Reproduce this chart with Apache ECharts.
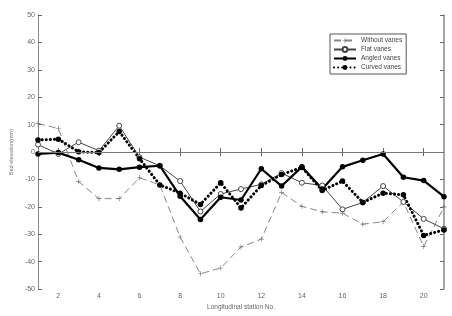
<!DOCTYPE html>
<html><head><meta charset="utf-8">
<script src="https://cdn.jsdelivr.net/npm/echarts@6/dist/echarts.min.js"></script>
<style>html,body{margin:0;padding:0;background:#fff}#c{width:452px;height:316px}</style>
</head><body><div id="c"></div>
<script>
const stations = [1,2,3,4,5,6,7,8,9,10,11,12,13,14,15,16,17,18,19,20,21];
const withoutVanes = [10.4,8.6,-10.8,-17,-17,-9.4,-12,-31,-44.4,-42.3,-34.6,-31.8,-14.8,-19.8,-21.8,-22.3,-26.3,-25.4,-18.2,-34.5,-20];
const flatVanes = [2.7,-0.7,3.6,0.5,9.6,-1.9,-5,-10.6,-21.7,-15.3,-13.5,-11.8,-7.7,-11.2,-12.2,-20.9,-18.4,-12.4,-18.2,-24.4,-28];
const angledVanes = [-0.7,-0.2,-2.8,-5.8,-6.3,-5.5,-5,-16.1,-24.6,-16.5,-17.5,-6.1,-12.4,-5.4,-13.5,-5.4,-3,-0.7,-9.2,-10.4,-16.3];
const curvedVanes = [4.4,4.7,0.1,-0.2,7.5,-2.4,-12,-15,-19.1,-11.2,-20.4,-12.2,-8.2,-5.6,-14,-10.6,-18.4,-15,-15.6,-30.4,-28.4];
const seriesNames = ['Without vanes','Flat vanes','Angled vanes','Curved vanes'];
const xTicks = [2,4,6,8,10,12,14,16,18,20];
const yTicks = [-50,-40,-30,-20,-10,0,10,20,30,40,50];

const pts = a => stations.map((s,i)=>[s,a[i]]);
const axisCol = '#888';
const font = 'Liberation Sans';
const plus = 'path://M4.3,0H5.7V4.3H10V5.7H5.7V10H4.3V5.7H0V4.3H4.3Z';
const chart = echarts.init(document.getElementById('c'), null, {renderer:'canvas'});
chart.setOption({
  animation:false,
  backgroundColor:'#fff',
  grid:{left:22,right:8,top:15,bottom:15,containLabel:false},
  xAxis:[{
    type:'value',min:1,max:21,position:'bottom',
    axisLine:{show:true,lineStyle:{color:axisCol,width:1}},
    axisTick:{show:true,inside:true,length:4,customValues:xTicks,lineStyle:{color:'#666'}},
    axisLabel:{show:true,customValues:xTicks,fontSize:7,color:'#666',margin:3,fontFamily:font},
    splitLine:{show:false},
    name:'Longitudinal station No.',nameLocation:'middle',nameGap:11,
    nameTextStyle:{fontSize:6.5,color:'#666',fontFamily:font}
  },{
    type:'value',min:1,max:21,position:'top',
    axisLine:{show:true,lineStyle:{color:axisCol,width:1}},
    axisTick:{show:true,inside:true,length:4,customValues:xTicks,lineStyle:{color:'#666'}},
    axisLabel:{show:false},splitLine:{show:false}
  }],
  yAxis:[{
    type:'value',min:-50,max:50,interval:10,position:'left',
    axisLine:{show:true,lineStyle:{color:axisCol,width:1}},
    axisTick:{show:true,inside:true,length:4,lineStyle:{color:'#666'}},
    axisLabel:{show:true,fontSize:7,color:'#666',margin:3,fontFamily:font,customValues:yTicks},
    splitLine:{show:false},
    name:'Bed elevation(mm)',nameLocation:'middle',nameGap:16,nameRotate:90,
    nameTextStyle:{fontSize:5.5,color:'#777',fontFamily:font}
  },{
    type:'value',min:-50,max:50,interval:10,position:'right',
    axisLine:{show:true,lineStyle:{color:axisCol,width:1.5}},
    axisTick:{show:true,inside:true,length:4,lineStyle:{color:'#666'}},
    axisLabel:{show:false},splitLine:{show:false}
  }],
  legend:{
    left:330,top:34,orient:'vertical',
    backgroundColor:'#fff',borderColor:'#555',borderWidth:1,padding:[3,4,3,3],
    itemGap:2,itemWidth:22,itemHeight:6,
    textStyle:{fontSize:6.5,color:'#444',fontFamily:font},
    data:seriesNames
  },
  series:[
    {name:seriesNames[0],type:'line',data:pts(withoutVanes),symbol:plus,symbolSize:5,
      lineStyle:{color:'#888',width:1,type:[7,4]},itemStyle:{color:'#777'},
      markLine:{silent:true,symbol:'none',label:{show:false},
        lineStyle:{color:'#777',width:1,type:'solid'},data:[{yAxis:0}]}},
    {name:seriesNames[1],type:'line',data:pts(flatVanes),symbol:'circle',symbolSize:5,
      lineStyle:{color:'#444',width:1},itemStyle:{color:'#fff',borderColor:'#444',borderWidth:1}},
    {name:seriesNames[2],type:'line',data:pts(angledVanes),symbol:'circle',symbolSize:5.5,
      lineStyle:{color:'#000',width:2.2},itemStyle:{color:'#000'}},
    {name:seriesNames[3],type:'line',data:pts(curvedVanes),symbol:'circle',symbolSize:5.5,
      lineStyle:{color:'#000',width:3,type:[0.1,4],cap:'round'},itemStyle:{color:'#000'}}
  ]
});
</script></body></html>
